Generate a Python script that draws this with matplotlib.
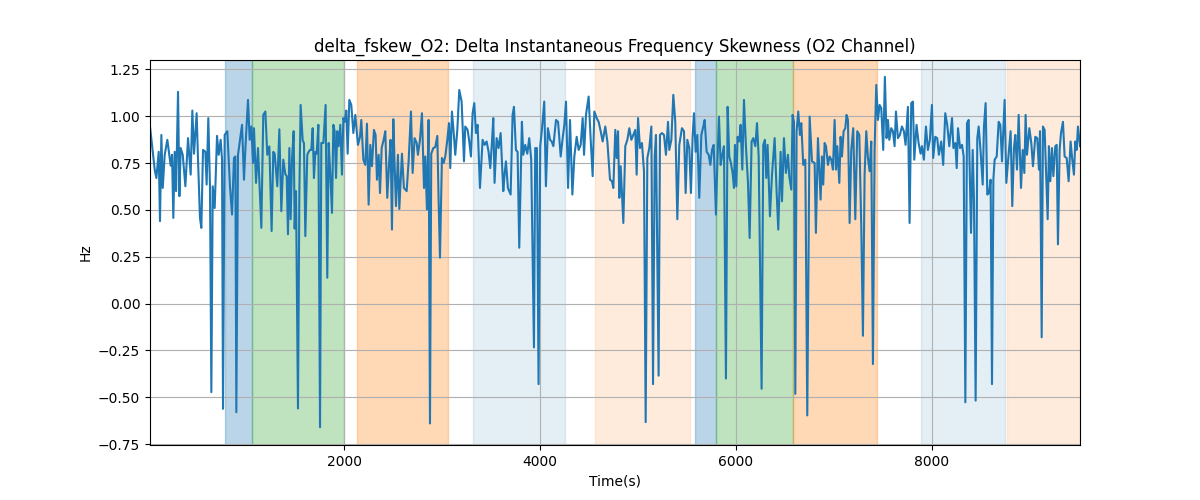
import matplotlib
matplotlib.use("Agg")
import matplotlib.pyplot as plt
import numpy as np

title = "delta_fskew_O2: Delta Instantaneous Frequency Skewness (O2 Channel)"
x_label = "Time(s)"
y_label = "Hz"

time_s = [
    20, 68, 85, 109, 122, 136, 150, 170, 197, 231, 245, 258, 272, 286, 306, 320, 333, 354, 381, 408,
    435, 452, 469, 496, 510, 530, 544, 561, 585, 598, 615, 632, 646, 660, 680, 704, 721, 741, 755, 765,
    782, 809, 836, 857, 877, 891, 901, 918, 959, 979, 996, 1020, 1037, 1054, 1071, 1081, 1102, 1122, 1156, 1176,
    1197, 1217, 1238, 1261, 1278, 1292, 1319, 1340, 1360, 1380,
    1401, 1415, 1428, 1442, 1455, 1469, 1486, 1496, 1510, 1530, 1544, 1557, 1578, 1591, 1605, 1625, 1639, 1653, 1666,
    1680, 1693, 1707, 1721, 1738, 1755, 1768, 1789, 1812, 1829, 1843, 1860, 1877, 1891, 1904, 1918, 1931, 1945, 1962,
    1979, 1993, 2006, 2023, 2037, 2054, 2074, 2095, 2115, 2142, 2163, 2176, 2197, 2217, 2234, 2251, 2268, 2285, 2305,
    2322, 2336, 2353, 2367, 2384, 2404, 2421, 2441, 2462, 2475, 2489, 2503, 2516, 2530, 2550, 2564, 2591, 2611, 2639,
    2659, 2683, 2700, 2720, 2741,
    2754, 2775, 2795, 2816, 2829, 2846, 2863, 2877, 2890, 2911, 2931, 2952, 2965, 2979, 2999, 3016, 3033, 3054, 3071,
    3084, 3101, 3118, 3135, 3156, 3176, 3200, 3224, 3237, 3261, 3278, 3295, 3312, 3329, 3346, 3363, 3387, 3414, 3434,
    3455, 3475, 3492, 3509, 3523, 3536, 3557, 3577, 3598, 3625, 3638, 3652, 3672, 3700, 3720, 3734, 3754, 3771, 3788,
    3815, 3829, 3849, 3870, 3890, 3910, 3938, 3951, 3968, 3985, 4002, 4019, 4043, 4060, 4080,
    4102, 4119, 4136, 4163, 4184, 4211, 4231, 4248, 4265, 4286, 4306, 4330, 4350, 4374, 4394, 4415, 4435, 4449, 4469,
    4496, 4517, 4537, 4554, 4578, 4598, 4619, 4639, 4666, 4687, 4714, 4734, 4748, 4768, 4782, 4796, 4809, 4823, 4850,
    4870, 4891, 4911, 4932, 4952, 4972, 4986, 5000, 5020, 5040, 5061, 5078, 5095, 5115, 5136, 5153, 5170, 5183, 5210,
    5224, 5244, 5265, 5285, 5306, 5319, 5340, 5360, 5380, 5401, 5421, 5448,
    5469, 5486, 5503, 5523, 5540, 5557, 5571, 5588, 5605, 5625, 5646, 5666, 5680, 5700, 5721, 5738, 5755, 5772, 5795,
    5809, 5826, 5843, 5857, 5877, 5897, 5914, 5931, 5948, 5965, 5979, 5989, 6003, 6016, 6033, 6047, 6064, 6081, 6101,
    6122, 6139, 6159, 6176, 6197, 6214, 6231, 6261, 6278, 6295, 6309, 6322, 6346, 6367, 6394, 6414, 6431, 6455, 6469,
    6489, 6509, 6530, 6543, 6564, 6577, 6591, 6605, 6618, 6635, 6652, 6666, 6686, 6707, 6727, 6751, 6775, 6802, 6815,
    6836,
    6850, 6863, 6877, 6890, 6904, 6918, 6938, 6955, 6972, 6989, 7006, 7020, 7033, 7054, 7067, 7081, 7098, 7115, 7128,
    7142, 7159, 7176, 7196, 7217, 7237, 7258, 7278, 7295, 7312, 7329, 7346, 7363, 7380, 7397, 7414, 7431, 7448, 7465,
    7482, 7502, 7519, 7536, 7550, 7564, 7584, 7601, 7618, 7632, 7652, 7672, 7693, 7713, 7730, 7754, 7771, 7788, 7805,
    7819, 7842, 7863, 7883, 7897, 7917, 7938, 7958, 7978, 7999, 8012, 8033, 8053, 8070, 8094, 8114, 8135, 8155, 8176,
    8204, 8218, 8238, 8252, 8265, 8286, 8306, 8323, 8340, 8357, 8374, 8398, 8415, 8428, 8445, 8462, 8476, 8496, 8517,
    8530, 8547, 8564, 8581, 8598, 8612, 8626, 8639, 8660, 8680, 8697, 8714, 8741, 8758, 8782, 8802, 8819, 8836, 8850,
    8867, 8884, 8908, 8925, 8942, 8955, 8969, 8993, 9013, 9030, 9054, 9074, 9091, 9102, 9119, 9132, 9149, 9166, 9180,
    9193, 9207, 9224, 9238, 9258, 9272, 9285, 9302, 9316, 9336, 9353, 9374, 9394, 9414, 9428, 9448, 9462, 9476, 9489,
    9510,
]

fskew_hz = [
    0.945, 0.715, 0.67, 0.81, 0.44, 0.90, 0.617, 0.794, 0.874, 0.736, 0.794, 0.457, 0.81, 0.60, 1.13, 0.573, 0.83, 0.794, 0.626, 0.883,
    0.688, 1.03, 0.80, 1.016, 0.768, 0.457, 0.404, 0.82, 0.81, 0.635, 0.99, 0.626, -0.473, 0.626, 0.51, 0.895, 0.794, 0.874, 0.768, -0.562,
    0.90, 0.92, 0.626, 0.475, 0.777, 0.785, -0.58, 0.794, 0.954, 0.661, 0.856, 1.087, 0.874, 0.945, 0.75, 0.936, 0.644, 0.83, 0.404, 1.007,
    1.025, 0.794, 0.839, 0.387, 0.81, 0.80, 0.626, 0.93, 0.493, 0.768,
    0.69, 0.68, 0.37, 0.83, 0.45, 0.77, 0.92, 0.40, 0.60, -0.56, 0.59, 1.06, 0.87, 0.857, 0.36, 0.794, 0.81, 0.82, 0.82,
    0.936, 0.67, 0.81, 0.80, 0.954, -0.66, 0.857, 0.857, 1.06, 0.138, 0.857, 0.688, 0.484, 0.954, 0.92, 0.67, 0.92, 0.84, 0.954,
    0.688, 0.99, 0.97, 1.03, 0.80, 1.087, 1.06, 0.91, 1.007, 0.847, 0.89, 0.98, 0.768, 0.74, 0.96, 0.528, 0.847, 0.733, 0.927,
    0.90, 0.661, 0.794, 0.59, 0.83, 0.874, 0.92, 0.564, 0.768, 0.874, 0.395, 0.984, 0.74, 0.52, 0.794, 0.505, 0.80, 0.617, 0.60,
    0.76, 1.025, 0.697, 0.883, 0.857,
    0.794, 0.874, 1.016, 0.617, 0.785, 0.502, 0.98, -0.64, 0.80, 0.83, 0.835, 0.895, 0.555, 0.245, 0.777, 0.75, 0.785, 0.874, 0.963,
    0.723, 1.025, 0.92, 0.794, 0.927, 1.14, 1.078, 0.759, 0.945, 0.927, 0.865, 0.785, 1.016, 1.07, 0.91, 0.954, 0.617, 0.874, 0.847,
    0.865, 0.81, 0.723, 0.857, 0.99, 0.644, 0.883, 0.83, 0.91, 0.60, 0.688, 0.759, 0.617, 0.582, 1.007, 1.05, 0.82, 0.81, 0.298,
    0.97, 0.794, 0.847, 0.80, 0.883, 0.768, -0.234, 0.83, 0.83, -0.43, 0.84, 0.927, 1.078, 0.626, 0.936,
    0.874, 0.865, 0.84, 0.98, 0.97, 0.785, 0.883, 0.954, 1.078, 0.617, 0.98, 0.582, 0.785, 0.89, 0.82, 0.847, 0.99, 0.794, 1.007,
    1.105, 0.874, 0.68, 1.025, 0.99, 0.97, 0.92, 0.865, 0.945, 0.865, 0.661, 0.653, 0.617, 0.927, 0.777, 0.92, 0.564, 0.733, 0.43,
    0.84, 0.874, 0.936, 0.874, 0.90, 0.927, 0.688, 0.99, 0.83, 0.857, 0.706, -0.633, 0.777, 0.83, 0.945, -0.43, 0.785, 0.90, -0.385,
    0.90, 0.91, 0.90, 0.794, 0.97, 0.82, 0.874, 1.114, 0.97, 0.45, 0.847, 0.936,
    0.92, 0.59, 0.874, 0.83, 0.59, 0.89, 1.016, 0.81, 0.90, 0.564, 0.90, 0.945, 0.98, 0.81, 0.794, 0.74, 0.82, 0.847, 0.475,
    0.74, 0.998, 0.74, 0.785, 0.84, -0.40, 1.05, 0.785, 0.75, 0.697, 0.617, 0.847, 0.626, 0.89, 0.865, 0.954, 0.715, 1.087, 0.84,
    0.644, 0.35, 0.865, 0.883, 0.84, 0.963, 0.785, -0.455, 0.847, 0.874, 0.67, 0.847, 0.466, 0.688, 0.883, 0.60, 0.395, 0.81, 0.546,
    0.883, 0.697, 0.794, 0.68, 0.608, 1.007, 0.97, -0.482, 0.92, 1.025, 0.90, 0.963, 0.74, 0.768, -0.597, 0.998, 0.759, 0.75, 0.377,
    0.883,
    0.715, 0.555, 0.785, 0.635, 0.857, 0.84, 0.74, 0.785, 0.768, 0.715, 0.98, 0.715, 0.84, 0.644, 0.89, 0.785, 0.92, 0.936, 1.007,
    0.98, 0.43, 0.82, 0.936, 0.45, 0.92, 0.90, 0.413, -0.172, 0.688, 0.92, 0.777, 0.706, 0.865, -0.323, 0.82, 1.167, 0.98, 1.06,
    1.043, 0.82, 1.21, 0.883, 0.98, 0.874, 0.936, 0.92, 0.84, 1.025, 0.883, 0.90, 0.945, 0.92, 0.847, 1.05, 0.43, 1.07, 1.078,
    0.768, 0.954, 0.857, 0.80, 0.84, 0.768, 0.945, 0.82, 0.874, 1.06, 0.777, 0.89, 0.883, 0.794, 0.865, 0.74, 1.016, 0.954, 0.84,
    0.99, 0.83, 0.857, 0.723, 0.936, 0.83, 0.847, 0.785, -0.527, 0.963, 0.98, 0.377, 0.82, 0.555, -0.518, 0.883, 0.945, 0.81, 0.635,
    0.945, 1.07, 0.582, 0.59, 0.661, -0.43, 0.661, 0.768, 0.785, 0.97, 0.954, 0.759, 1.087, 0.644, 0.80, 0.92, 0.52, 0.83, 0.90,
    0.715, 1.007, 0.617, 0.82, 0.697, 1.007, 0.794, 0.936, 0.857, 0.733, 0.89, 0.883, 0.715, 0.92, -0.18, 0.945, 0.927, 0.661, 0.45,
    0.84, 0.653, 0.83, 0.68, 0.84, 0.847, 0.316, 0.82, 0.91, 0.97, 0.785, 0.777, 0.653, 0.865, 0.785, 0.688, 0.865, 0.82, 0.945,
    0.84,
]

span_starts = [785, 1061, 2132, 3316, 4561, 5581, 5792, 6584, 7887, 8762]
span_ends = [1061, 2000, 3058, 4255, 5530, 5792, 6584, 7435, 8748, 9510]
span_colors = ["C0", "C2", "C1", "C0", "C1", "C0", "C2", "C1", "C0", "C1"]
span_alphas = [0.3, 0.3, 0.3, 0.12, 0.15, 0.3, 0.3, 0.3, 0.12, 0.15]

t = np.array(time_s, dtype=float)
v = np.array(fskew_hz, dtype=float)

fig, ax = plt.subplots(figsize=(12, 5), dpi=100)
for s, e, c, a in zip(span_starts, span_ends, span_colors, span_alphas):
    ax.axvspan(s, e, color=c, alpha=a)
ax.plot(t, v, color="C0", linewidth=1.5)
ax.set_xlim(t.min(), t.max())
ax.set_ylim(-0.755, 1.30)
ax.set_title(title)
ax.set_xlabel(x_label)
ax.set_ylabel(y_label)
ax.grid(True)
fig.savefig("out.png", dpi=100)
